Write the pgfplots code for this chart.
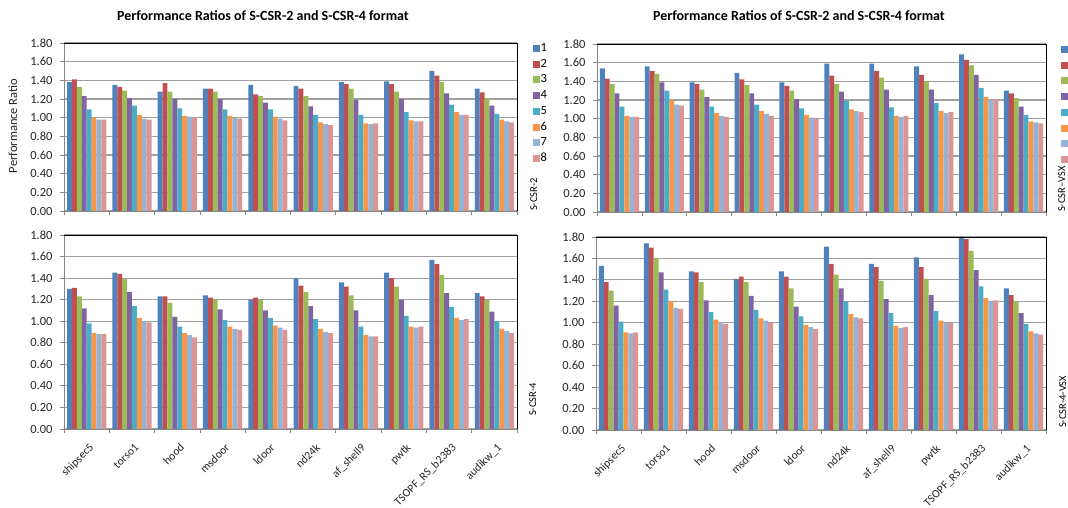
\documentclass[border=0pt]{standalone}
\usepackage{pgfplots}
\pgfplotsset{compat=1.18}
\usepackage{pgfplotstable}
\usepackage{fontspec}
\setmainfont{Carlito}

\definecolor{c1}{HTML}{4F81BD}
\definecolor{c2}{HTML}{C0504D}
\definecolor{c3}{HTML}{9BBB59}
\definecolor{c4}{HTML}{8064A2}
\definecolor{c5}{HTML}{4BACC6}
\definecolor{c6}{HTML}{F79646}
\definecolor{c7}{HTML}{95B3D7}
\definecolor{c8}{HTML}{D99694}
\definecolor{gridc}{HTML}{A0A0A0}
\definecolor{axc}{HTML}{868686}

% columns: x s1..s8 ; x = 0 shipsec5, 1 torso1, 2 hood, 3 msdoor, 4 ldoor,
% 5 nd24k, 6 af_shell9, 7 pwtk, 8 TSOPF_RS_b2383, 9 audikw_1
\pgfplotstableread{
x s1 s2 s3 s4 s5 s6 s7 s8
0 1.38 1.41 1.33 1.23 1.09 1.00 0.98 0.98
1 1.35 1.33 1.29 1.21 1.13 1.03 0.99 0.98
2 1.28 1.37 1.28 1.20 1.10 1.02 1.01 1.00
3 1.31 1.31 1.28 1.20 1.09 1.02 1.00 0.99
4 1.35 1.25 1.23 1.16 1.09 1.01 0.99 0.97
5 1.34 1.31 1.23 1.12 1.03 0.95 0.93 0.92
6 1.38 1.36 1.31 1.19 1.03 0.94 0.93 0.94
7 1.39 1.36 1.28 1.20 1.06 0.97 0.96 0.96
8 1.50 1.45 1.38 1.26 1.14 1.06 1.03 1.03
9 1.31 1.27 1.21 1.13 1.04 0.98 0.96 0.95
}\LT
\pgfplotstableread{
x s1 s2 s3 s4 s5 s6 s7 s8
0 1.30 1.31 1.23 1.12 0.98 0.89 0.88 0.88
1 1.45 1.44 1.39 1.27 1.14 1.03 1.00 0.99
2 1.23 1.23 1.17 1.04 0.95 0.89 0.87 0.85
3 1.24 1.22 1.20 1.11 1.01 0.95 0.93 0.92
4 1.20 1.22 1.20 1.10 1.03 0.96 0.94 0.92
5 1.40 1.33 1.27 1.14 1.02 0.93 0.90 0.89
6 1.36 1.32 1.24 1.10 0.95 0.87 0.86 0.86
7 1.45 1.40 1.32 1.20 1.05 0.95 0.94 0.95
8 1.57 1.53 1.43 1.26 1.13 1.03 1.01 1.02
9 1.26 1.23 1.20 1.09 1.00 0.93 0.91 0.89
}\LB
\pgfplotstableread{
x s1 s2 s3 s4 s5 s6 s7 s8
0 1.54 1.43 1.37 1.27 1.13 1.03 1.02 1.02
1 1.56 1.51 1.48 1.39 1.30 1.20 1.15 1.14
2 1.39 1.37 1.31 1.23 1.13 1.06 1.03 1.02
3 1.49 1.42 1.36 1.27 1.15 1.08 1.05 1.03
4 1.39 1.35 1.30 1.21 1.11 1.04 1.01 1.00
5 1.59 1.46 1.37 1.29 1.19 1.10 1.08 1.07
6 1.59 1.51 1.44 1.31 1.12 1.03 1.02 1.03
7 1.56 1.47 1.40 1.31 1.17 1.08 1.06 1.07
8 1.69 1.63 1.57 1.47 1.33 1.23 1.20 1.21
9 1.30 1.27 1.22 1.13 1.04 0.97 0.96 0.95
}\RT
\pgfplotstableread{
x s1 s2 s3 s4 s5 s6 s7 s8
0 1.53 1.38 1.30 1.16 1.01 0.91 0.90 0.91
1 1.74 1.70 1.60 1.47 1.31 1.20 1.14 1.13
2 1.48 1.47 1.38 1.21 1.10 1.03 1.00 0.99
3 1.41 1.43 1.38 1.25 1.12 1.04 1.02 1.00
4 1.48 1.43 1.32 1.15 1.06 0.98 0.96 0.94
5 1.71 1.55 1.45 1.32 1.20 1.08 1.05 1.04
6 1.55 1.52 1.39 1.22 1.09 0.97 0.95 0.96
7 1.61 1.52 1.41 1.26 1.11 1.02 1.00 1.00
8 1.80 1.78 1.67 1.49 1.34 1.23 1.20 1.21
9 1.32 1.26 1.20 1.09 0.99 0.92 0.90 0.89
}\RB

\pgfplotsset{
  panel/.style={
    scale only axis,
    ybar=0pt, bar width=4.9pt,
    xmin=-0.5, xmax=9.5, ymin=0, ymax=1.8,
    ytick={0,0.2,0.4,0.6,0.8,1.0,1.2,1.4,1.6,1.8},
    yticklabel style={/pgf/number format/fixed, /pgf/number format/fixed zerofill,
      /pgf/number format/precision=2, /pgf/number format/assume math mode=true,
      /tikz/font=\fontsize{12.5}{14}\selectfont, /tikz/text=black!85, /tikz/xshift=-4pt},
    xtick={0,...,9},
    minor xtick={-0.5,0.5,...,9.5},
    major x tick style={draw=none},
    tick align=outside,
    major tick length=4pt, minor tick length=4pt,
    tick style={axc, line width=0.8pt},
    axis x line*=bottom, axis y line*=left,
    axis line style={axc, line width=0.8pt},
    ymajorgrids, major grid style={gridc, line width=1.2pt},
    clip=false,
    every axis plot/.append style={draw=none},
    legend image code/.code={\fill[##1] (0pt,-3.5pt) rectangle (6.5pt,3.5pt);},
    legend style={draw=none, fill=none, inner sep=0pt, row sep=1.7pt,
      font=\fontsize{12.5}{14}\selectfont,
      nodes={text height=9pt, text depth=3pt, inner sep=1pt}},
    legend cell align=left,
    xticklabel style={yshift=-8pt, xshift=2pt, rotate=45, anchor=north east, font=\fontsize{11.5}{13}\selectfont, inner sep=1pt, text=black!85},
  },
  notx/.style={xticklabels={}},
  withx/.style={xticklabels={shipsec5,torso1,hood,msdoor,ldoor,nd24k,af\_shell9,pwtk,TSOPF\_RS\_b2383,audikw\_1}},
}

\newcommand{\bars}[1]{%
  \addplot[fill=c1] table[x=x,y=s1]{#1};
  \addplot[fill=c2] table[x=x,y=s2]{#1};
  \addplot[fill=c3] table[x=x,y=s3]{#1};
  \addplot[fill=c4] table[x=x,y=s4]{#1};
  \addplot[fill=c5] table[x=x,y=s5]{#1};
  \addplot[fill=c6] table[x=x,y=s6]{#1};
  \addplot[fill=c7] table[x=x,y=s7]{#1};
  \addplot[fill=c8] table[x=x,y=s8]{#1};
  \draw[black, line width=0.8pt] (rel axis cs:0,1) -- (rel axis cs:1,1) -- (rel axis cs:1,0);
}

\begin{document}
\begin{tikzpicture}[x=1pt,y=1pt]
% left top
\begin{axis}[panel, notx, width=453pt, height=168pt, at={(64pt,297pt)}, anchor=south west,
  legend style={at={(rel axis cs:1.035,1.01)}, anchor=north west}]
\bars{\LT}
\legend{1,2,3,4,5,6,7,8}
\end{axis}
% left bottom
\begin{axis}[panel, withx, width=453pt, height=194pt, at={(64pt,79pt)}, anchor=south west]
\bars{\LB}
\end{axis}
% right top (its legend's labels fall outside the picture, as in the reference)
\begin{axis}[panel, notx, width=449pt, height=168pt, at={(597pt,296pt)}, anchor=south west,
  legend style={at={(rel axis cs:1.033,1.01)}, anchor=north west}]
\bars{\RT}
\legend{\mbox{},\mbox{},\mbox{},\mbox{},\mbox{},\mbox{},\mbox{},\mbox{}}
\end{axis}
% right bottom
\begin{axis}[panel, withx, width=450pt, height=193pt, at={(596pt,78pt)}, anchor=south west]
\bars{\RB}
\end{axis}

\node[font=\fontsize{14}{16}\selectfont\bfseries] at (263,492) {Performance Ratios of S-CSR-2 and S-CSR-4 format};
\node[font=\fontsize{14}{16}\selectfont\bfseries] at (799,492) {Performance Ratios of S-CSR-2 and S-CSR-4 format};
\node[font=\fontsize{12.5}{14}\selectfont, rotate=90, anchor=base, text=black!85] at (17,382) {Performance Ratio};
\node[font=\fontsize{10.5}{12}\selectfont, rotate=90, anchor=base west, inner sep=0pt] at (537,297) {S-CSR-2};
\node[font=\fontsize{10.5}{12}\selectfont, rotate=90, anchor=base west, inner sep=0pt] at (536,92) {S-CSR-4};
\node[font=\fontsize{10.5}{12}\selectfont, rotate=90, anchor=base west, inner sep=0pt] at (1065,296) {S-CSR--VSX};
\node[font=\fontsize{10.5}{12}\selectfont, rotate=90, anchor=base west, inner sep=0pt] at (1066,80) {S-CSR-4-VSX};

\pgfresetboundingbox
\path[use as bounding box] (0,0) rectangle (1068,508);
\end{tikzpicture}
\end{document}
